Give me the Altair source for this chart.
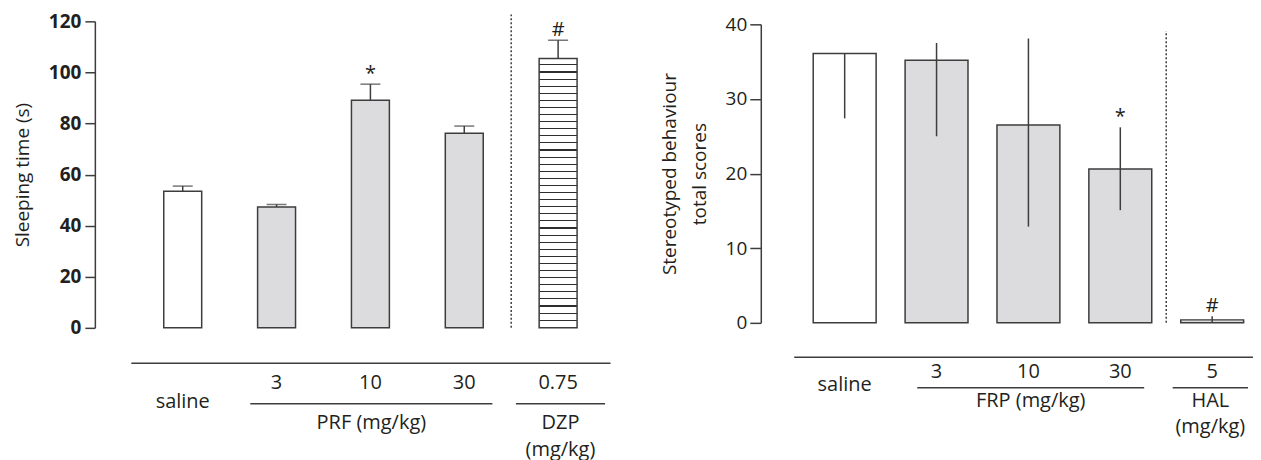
import altair as alt
import pandas as pd

FONT = "Open Sans"
INK = "#231f20"
LINE = "#3d3d3d"
GREY = "#dcdcde"

# ---------------- left panel (sleeping time) ----------------
L_pos = [0, 1, 2, 3, 4]
L_dose = ["saline", "3", "10", "30", "0.75"]
L_mean = [53.5, 47.3, 89.1, 76.2, 105.5]
L_upper = [55.5, 48.3, 95.4, 79.0, 112.6]
L_style = ["white", "grey", "grey", "grey", "hatch"]
L_mark = ["", "", "*", "", "#"]
L_group = ["PRF (mg/kg)", "DZP\n(mg/kg)"]
L_group_from = [0.72, 3.55]
L_group_to = [3.30, 4.5]
L_ticks = [0, 20, 40, 60, 80, 100, 120]
L_divider = [3.5]
L_divider_top = [122.7]

# ---------------- right panel (stereotyped behaviour) ----------------
R_pos = [0, 1, 2, 3, 4]
R_dose = ["saline", "3", "10", "30", "5"]
R_mean = [36.1, 35.2, 26.5, 20.6, 0.4]
R_lower = [27.4, 25.0, 12.9, 15.1, 0.0]
R_upper = [36.1, 37.5, 38.1, 26.2, 0.9]
R_mark = ["", "", "", "*", "#"]
R_group = ["FRP (mg/kg)", "HAL\n(mg/kg)"]
R_group_from = [0.79, 3.57]
R_group_to = [3.26, 4.39]
R_ticks = [0, 10, 20, 30, 40]
R_divider = [3.5]
R_divider_top = [39.1]

left_df = pd.DataFrame({"pos": L_pos, "dose": L_dose, "mean": L_mean,
                        "upper": L_upper, "style": L_style, "mark": L_mark})
left_groups = pd.DataFrame({"label": L_group, "start": L_group_from, "end": L_group_to})
left_groups["mid"] = (left_groups["start"] + left_groups["end"]) / 2
left_div = pd.DataFrame({"pos": L_divider, "top": L_divider_top, "bottom": [0] * len(L_divider)})

right_df = pd.DataFrame({"pos": R_pos, "dose": R_dose, "mean": R_mean,
                         "lower": R_lower, "upper": R_upper, "mark": R_mark})
right_groups = pd.DataFrame({"label": R_group, "start": R_group_from, "end": R_group_to})
right_groups["mid"] = (right_groups["start"] + right_groups["end"]) / 2
right_div = pd.DataFrame({"pos": R_divider, "top": R_divider_top, "bottom": [0] * len(R_divider)})

# horizontal hatching as a striped gradient
n_stripes = 38
stops = []
for i in range(n_stripes):
    a = i / n_stripes
    b = (i + 0.84) / n_stripes
    c = (i + 1) / n_stripes
    stops += [alt.GradientStop(offset=a, color="#ffffff"),
              alt.GradientStop(offset=b, color="#ffffff"),
              alt.GradientStop(offset=b, color="#2e2e2e"),
              alt.GradientStop(offset=c, color="#2e2e2e")]
hatch = alt.LinearGradient(gradient="linear", stops=stops, x1=0, x2=0, y1=0, y2=1)


def x_enc(field, domain, offset):
    return alt.X(f"{field}:Q",
                 scale=alt.Scale(domain=domain, nice=False, zero=False),
                 axis=alt.Axis(title=None, labels=False, ticks=False, grid=False,
                               domain=True, domainColor=LINE, domainWidth=1.5,
                               offset=offset))


def y_axis(title, values, offset, weight, tick, lpad, tpad):
    return alt.Axis(title=title, values=values, grid=False, offset=offset,
                    tickSize=tick, tickWidth=1.5, tickColor=LINE,
                    domainColor=LINE, domainWidth=1.5,
                    labelFont=FONT, labelFontSize=19, labelFontWeight=weight,
                    labelColor=INK, labelPadding=lpad,
                    titleFont=FONT, titleFontSize=19, titleFontWeight="normal",
                    titleColor=INK, titlePadding=tpad, titleLineHeight=30)


fill_scale = alt.Scale(domain=["white", "grey"], range=["#ffffff", GREY])
TXT = 20

# ---------------- build left ----------------
LX = [-0.5, 4.5]
ly_scale = alt.Scale(domain=[0, 120], nice=False)
ly_axis = y_axis("Sleeping time (s)", L_ticks, 36, "bold", 10, 4, 16)


def ly(field):
    return alt.Y(f"{field}:Q", scale=ly_scale, axis=ly_axis)


lbase = alt.Chart(left_df)
l_bars = lbase.mark_bar(size=38, stroke=LINE, strokeWidth=1.5).encode(
    x=x_enc("pos", LX, 35), y=ly("mean"),
    fill=alt.Fill("style:N", scale=fill_scale, legend=None)
).transform_filter("datum.style != 'hatch'")
l_hatch = lbase.mark_bar(size=38, stroke=LINE, strokeWidth=1.5, fill=hatch).encode(
    x=x_enc("pos", LX, 35), y=ly("mean")
).transform_filter("datum.style == 'hatch'")
l_err = lbase.mark_rule(color=LINE, strokeWidth=1.5).encode(
    x=x_enc("pos", LX, 35), y=ly("mean"), y2="upper:Q")
l_cap = lbase.mark_tick(orient="horizontal", size=20, thickness=1.5, color=LINE).encode(
    x=x_enc("pos", LX, 35), y=ly("upper"))
l_sig = lbase.mark_text(font=FONT, fontSize=20, color=INK, baseline="alphabetic", dy=-4).encode(
    x=x_enc("pos", LX, 35), y=ly("upper"), text="mark:N"
).transform_filter("datum.mark != ''")
l_div = alt.Chart(left_div).mark_rule(color=LINE, strokeWidth=1.5, strokeDash=[2, 2]).encode(
    x=x_enc("pos", LX, 35), y=ly("bottom"), y2="top:Q")
l_dose = lbase.mark_text(font=FONT, fontSize=TXT, color=INK, baseline="alphabetic").encode(
    x=x_enc("pos", LX, 35), y=alt.value(368), text="dose:N"
).transform_filter("datum.dose != 'saline'")
l_saline = lbase.mark_text(font=FONT, fontSize=TXT, color=INK, baseline="alphabetic").encode(
    x=x_enc("pos", LX, 35), y=alt.value(387), text="dose:N"
).transform_filter("datum.dose == 'saline'")
l_under = alt.Chart(left_groups).mark_rule(color=LINE, strokeWidth=1.5).encode(
    x=x_enc("start", LX, 35), x2="end:Q", y=alt.value(383))
l_glabel = alt.Chart(left_groups).mark_text(font=FONT, fontSize=TXT, color=INK,
                                            baseline="alphabetic", lineBreak="\n",
                                            lineHeight=27).encode(
    x=x_enc("mid", LX, 35), y=alt.value(408), text="label:N")

left = alt.layer(l_bars, l_hatch, l_err, l_cap, l_sig, l_div, l_dose, l_saline,
                 l_under, l_glabel).properties(width=480, height=307)

# ---------------- build right ----------------
RX = [-0.5, 4.39]
ry_scale = alt.Scale(domain=[0, 40], range=[302, 3], nice=False)
ry_axis = y_axis(["Stereotyped behaviour", "total scores"], R_ticks, 33, "normal", 11, 3, 16)


def ry(field):
    return alt.Y(f"{field}:Q", scale=ry_scale, axis=ry_axis)


rbase = alt.Chart(right_df).transform_calculate(style="datum.pos == 0 ? 'white' : 'grey'")
r_bars = rbase.mark_bar(size=63, stroke=LINE, strokeWidth=1.5).encode(
    x=x_enc("pos", RX, 34), y=ry("mean"),
    fill=alt.Fill("style:N", scale=fill_scale, legend=None))
r_err = alt.Chart(right_df).mark_rule(color=LINE, strokeWidth=1.5).encode(
    x=x_enc("pos", RX, 34), y=ry("lower"), y2="upper:Q")
r_sig = alt.Chart(right_df).mark_text(font=FONT, fontSize=20, color=INK, baseline="alphabetic", dy=-4).encode(
    x=x_enc("pos", RX, 34), y=ry("upper"), text="mark:N"
).transform_filter("datum.mark != ''")
r_div = alt.Chart(right_div).mark_rule(color=LINE, strokeWidth=1.5, strokeDash=[2, 2]).encode(
    x=x_enc("pos", RX, 34), y=ry("bottom"), y2="top:Q")
r_dose = alt.Chart(right_df).mark_text(font=FONT, fontSize=TXT, color=INK, baseline="alphabetic").encode(
    x=x_enc("pos", RX, 34), y=alt.value(357), text="dose:N"
).transform_filter("datum.dose != 'saline'")
r_saline = alt.Chart(right_df).mark_text(font=FONT, fontSize=TXT, color=INK, baseline="alphabetic").encode(
    x=x_enc("pos", RX, 34), y=alt.value(370), text="dose:N"
).transform_filter("datum.dose == 'saline'")
r_under = alt.Chart(right_groups).mark_rule(color=LINE, strokeWidth=1.5).encode(
    x=x_enc("start", RX, 34), x2="end:Q", y=alt.value(367))
r_glabel = alt.Chart(right_groups).mark_text(font=FONT, fontSize=TXT, color=INK,
                                             baseline="alphabetic", lineBreak="\n",
                                             lineHeight=26).encode(
    x=x_enc("mid", RX, 34), y=alt.value(386), text="label:N")

right = alt.layer(r_bars, r_err, r_sig, r_div, r_dose, r_saline,
                  r_under, r_glabel).properties(width=460, height=302)

chart = alt.hconcat(left, right, spacing=184, bounds="flush").resolve_scale(
    x="independent", y="independent"
).properties(
    padding={"left": 5, "top": 4, "right": 0, "bottom": 3}
).configure_view(strokeWidth=0)

chart.save("out.html", embed_options={"renderer": "svg", "actions": False})
